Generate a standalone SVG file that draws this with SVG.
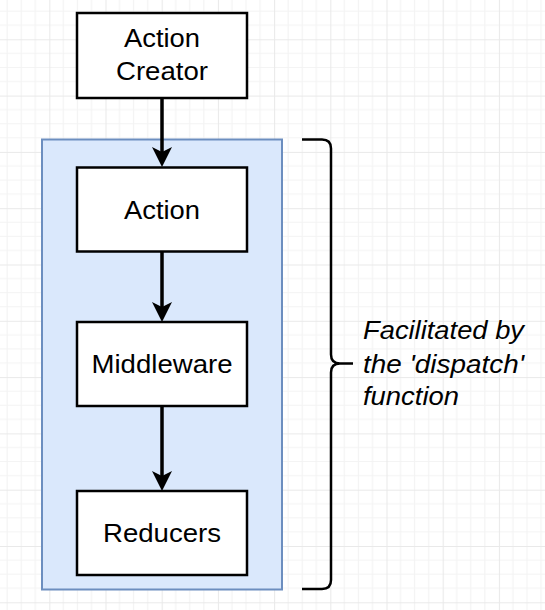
<svg xmlns="http://www.w3.org/2000/svg" width="545" height="610" viewBox="0 0 545 610">
  <defs>
    <pattern id="grid" patternUnits="userSpaceOnUse" x="49.3" y="39.3" width="56.2" height="56.3">
      <rect width="56.2" height="56.3" fill="#ffffff"/>
      <path d="M14.05 0V56.3M28.1 0V56.3M42.15 0V56.3M0 14.07H56.2M0 28.15H56.2M0 42.22H56.2" stroke="#f3f3f3" stroke-width="1" fill="none"/>
      <path d="M0.5 0V56.3M0 0.5H56.2" stroke="#e9e9e9" stroke-width="1" fill="none"/>
    </pattern>
    <marker id="arrow" markerUnits="userSpaceOnUse" viewBox="0 0 20 20" refX="10" refY="10" markerWidth="20" markerHeight="20" orient="auto">
      <path d="M0 0L20 10L0 20L5 10Z" fill="#000000"/>
    </marker>
    <style>
      .box { fill: #ffffff; stroke: #000000; stroke-width: 2.5; }
      .label { font-family: "Liberation Sans", Arial, Helvetica, sans-serif; font-size: 26px; fill: #000000; text-anchor: middle; }
      .note { font-family: "Liberation Sans", Arial, Helvetica, sans-serif; font-size: 25px; font-style: italic; fill: #000000; }
      .edge { stroke: #000000; stroke-width: 3.5; fill: none; marker-end: url(#arrow); }
    </style>
  </defs>
  <rect width="545" height="610" fill="url(#grid)"/>

  <g id="dispatch-container">
    <rect x="42" y="139.5" width="240" height="450" fill="#dae8fc" stroke="#6c8ebf" stroke-width="2"/>
  </g>

  <g id="connectors">
    <line class="edge" x1="162" y1="98" x2="162" y2="157"/>
    <line class="edge" x1="162" y1="251.5" x2="162" y2="312"/>
    <line class="edge" x1="162" y1="406" x2="162" y2="481"/>
  </g>

  <g id="action-creator">
    <rect class="box" x="77" y="13" width="170" height="85"/>
    <text class="label" x="162" y="46.5" textLength="76" lengthAdjust="spacingAndGlyphs">Action</text>
    <text class="label" x="162" y="80" textLength="92" lengthAdjust="spacingAndGlyphs">Creator</text>
  </g>

  <g id="action">
    <rect class="box" x="77" y="167.5" width="170" height="84"/>
    <text class="label" x="162" y="218.5" textLength="76" lengthAdjust="spacingAndGlyphs">Action</text>
  </g>

  <g id="middleware">
    <rect class="box" x="77" y="322" width="170" height="84"/>
    <text class="label" x="162" y="372.5" textLength="141" lengthAdjust="spacingAndGlyphs">Middleware</text>
  </g>

  <g id="reducers">
    <rect class="box" x="77" y="491" width="170" height="84"/>
    <text class="label" x="162" y="542" textLength="118" lengthAdjust="spacingAndGlyphs">Reducers</text>
  </g>

  <g id="brace">
    <path d="M302 139.5H322Q331 139.5 331 148.5V354.5Q331 363.5 340 363.5H353M340 363.5Q331 363.5 331 372.5V580Q331 589 322 589H302" fill="none" stroke="#000000" stroke-width="2.5"/>
  </g>

  <g id="dispatch-note">
    <text class="note" x="363" y="339" textLength="161" lengthAdjust="spacingAndGlyphs">Facilitated by</text>
    <text class="note" x="363" y="373" textLength="161" lengthAdjust="spacingAndGlyphs">the 'dispatch'</text>
    <text class="note" x="363" y="405" textLength="96" lengthAdjust="spacingAndGlyphs">function</text>
  </g>
</svg>
